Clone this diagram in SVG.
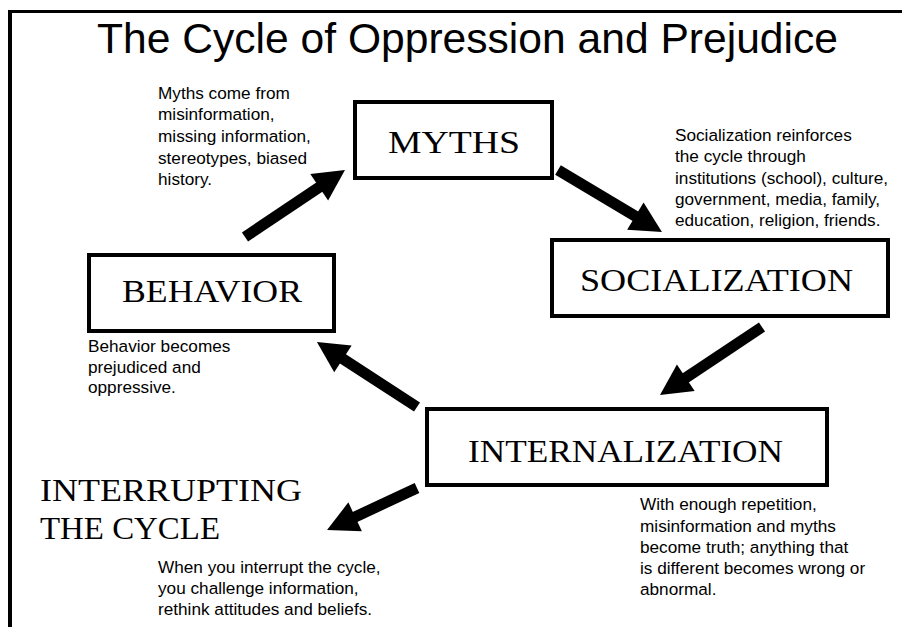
<svg xmlns="http://www.w3.org/2000/svg" width="902" height="627" viewBox="0 0 902 627">
<style>
.box{fill:#fff;stroke:#000;stroke-width:4}
.lbl{font-family:"Liberation Serif","DejaVu Serif",serif;font-size:32px;fill:#000}
.body{font-family:"Liberation Sans",Arial,sans-serif;font-size:17.2px;fill:#000}
.title{font-family:"Liberation Sans",Arial,sans-serif;font-size:42px;fill:#000}
.arr{stroke:#000;stroke-width:11;fill:none}
</style>
<defs>
<marker id="ah" markerUnits="userSpaceOnUse" markerWidth="40" markerHeight="40" refX="0" refY="0" viewBox="-10 -20 40 40" orient="auto" overflow="visible">
<path d="M-6,-16 L25,0 L-6,16 z" fill="#000"/>
</marker>
</defs>
<rect width="902" height="627" fill="#fff"/>
<g id="frame">
<line x1="10" y1="10" x2="10" y2="627" stroke="#000" stroke-width="4"/>
<line x1="8" y1="11.5" x2="902" y2="11.5" stroke="#000" stroke-width="3"/>
</g>
<g id="title">
<text class="title" x="97" y="53" textLength="741" lengthAdjust="spacingAndGlyphs">The Cycle of Oppression and Prejudice</text>
</g>
<g id="connectors">
<line class="arr" x1="245" y1="237" x2="324.2" y2="183.9" marker-end="url(#ah)"/>
<line class="arr" x1="558" y1="170" x2="640.5" y2="219.2" marker-end="url(#ah)"/>
<line class="arr" x1="762" y1="327" x2="680.8" y2="381.1" marker-end="url(#ah)"/>
<line class="arr" x1="417" y1="407" x2="337.9" y2="355.6" marker-end="url(#ah)"/>
<line class="arr" x1="417" y1="488" x2="349.7" y2="519.4" marker-end="url(#ah)"/>
</g>
<g id="myths">
<rect class="box" x="355" y="102" width="197" height="76"/>
<text class="lbl" x="388" y="153" textLength="132" lengthAdjust="spacingAndGlyphs">MYTHS</text>
</g>
<g id="socialization">
<rect class="box" x="552" y="240" width="336" height="76"/>
<text class="lbl" x="580" y="291" textLength="273" lengthAdjust="spacingAndGlyphs">SOCIALIZATION</text>
</g>
<g id="behavior">
<rect class="box" x="89" y="255" width="245" height="76"/>
<text class="lbl" x="122" y="302" textLength="180" lengthAdjust="spacingAndGlyphs">BEHAVIOR</text>
</g>
<g id="internalization">
<rect class="box" x="427" y="409" width="400" height="76"/>
<text class="lbl" x="468" y="462" textLength="315" lengthAdjust="spacingAndGlyphs">INTERNALIZATION</text>
</g>
<g id="interrupting">
<text class="lbl" x="40" y="501" textLength="262" lengthAdjust="spacingAndGlyphs">INTERRUPTING</text>
<text class="lbl" x="40" y="539" textLength="180" lengthAdjust="spacingAndGlyphs">THE CYCLE</text>
</g>
<g id="myths-note">
<text class="body" x="158" y="99">Myths come from</text>
<text class="body" x="158" y="120">misinformation,</text>
<text class="body" x="158" y="142">missing information,</text>
<text class="body" x="158" y="164">stereotypes, biased</text>
<text class="body" x="158" y="185">history.</text>
</g>
<g id="socialization-note">
<text class="body" x="675" y="141">Socialization reinforces</text>
<text class="body" x="675" y="162">the cycle through</text>
<text class="body" x="675" y="184">institutions (school), culture,</text>
<text class="body" x="675" y="205">government, media, family,</text>
<text class="body" x="675" y="226">education, religion, friends.</text>
</g>
<g id="behavior-note">
<text class="body" x="88" y="352">Behavior becomes</text>
<text class="body" x="88" y="373">prejudiced and</text>
<text class="body" x="88" y="393">oppressive.</text>
</g>
<g id="internalization-note">
<text class="body" x="640" y="510">With enough repetition,</text>
<text class="body" x="640" y="532">misinformation and myths</text>
<text class="body" x="640" y="553">become truth; anything that</text>
<text class="body" x="640" y="574">is different becomes wrong or</text>
<text class="body" x="640" y="595">abnormal.</text>
</g>
<g id="interrupting-note">
<text class="body" x="158" y="573">When you interrupt the cycle,</text>
<text class="body" x="158" y="594">you challenge information,</text>
<text class="body" x="158" y="615">rethink attitudes and beliefs.</text>
</g>
</svg>
